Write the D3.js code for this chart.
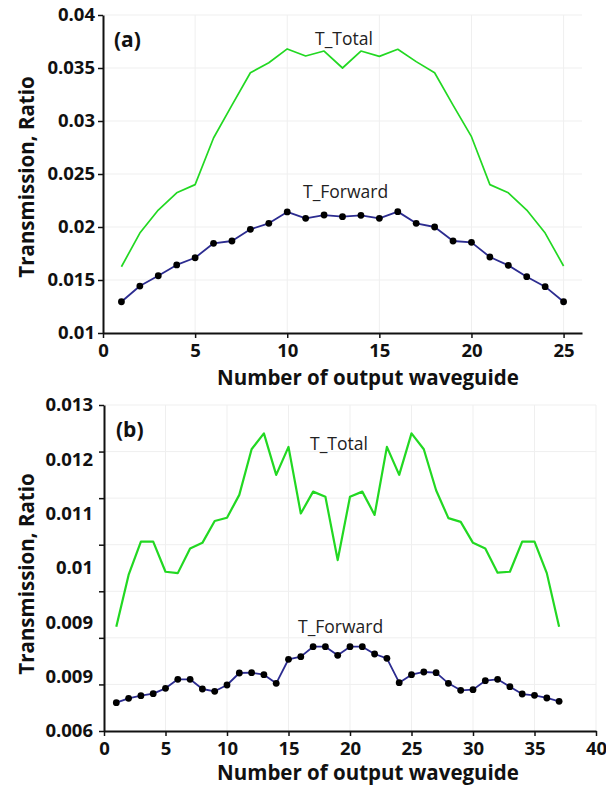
<!DOCTYPE html>
<html><head><meta charset="utf-8">
<script src="https://cdn.jsdelivr.net/npm/d3@7"></script>
<style>
html,body{margin:0;padding:0;background:#fff;}
svg{display:block;}
text{font-family:"Open Sans","DejaVu Sans",sans-serif;}
</style></head>
<body>
<svg id="chart" width="606" height="791"></svg>
<script>
// ---------- Panel (a) data ----------
const guidesA = d3.range(1, 26);
const totalA = [0.01625,0.01943,0.0216,0.02323,0.0240,0.0284,0.0315,0.03455,0.0355,0.0368,
                0.03613,0.0366,0.0350,0.0366,0.0361,0.03677,0.0356,0.03455,0.0315,0.02852,
                0.0240,0.02323,0.0216,0.01943,0.01632];
const forwardA = [0.01295,0.01443,0.0154,0.01642,0.0171,0.01846,0.01868,0.01978,0.02035,0.02142,
                  0.02082,0.02113,0.02097,0.0211,0.02082,0.02145,0.02035,0.0200,0.01868,0.01855,
                  0.01717,0.01638,0.01531,0.01437,0.01295];
const yTicksA = [0.01,0.015,0.02,0.025,0.03,0.035,0.04];
const yTickLabelsA = ["0.01","0.015","0.02","0.025","0.03","0.035","0.04"];
const xTicksA = [0,5,10,15,20,25];

// ---------- Panel (b) data ----------
const guidesB = d3.range(1, 38);
const totalB = [0.00824,0.00935,0.010065,0.010065,0.00942,0.00939,0.00992,0.01004,0.01051,0.01058,
                0.01107,0.01205,0.01239,0.0115,0.0121,0.01067,0.01114,0.01103,0.00967,0.01103,
                0.01114,0.01064,0.0121,0.0115,0.01239,0.01205,0.01117,0.01057,0.01049,0.01004,
                0.00992,0.0094,0.00942,0.010065,0.010065,0.00939,0.00824];
const forwardB = [0.006608,0.006702,0.006758,0.006801,0.006916,0.00711,0.00711,0.006902,0.006852,0.006988,
                  0.007245,0.007252,0.007209,0.007024,0.00754,0.007596,0.00781,0.00781,0.007625,0.00781,
                  0.00781,0.007653,0.007561,0.007037,0.007209,0.007267,0.007252,0.007024,0.006874,0.006888,
                  0.00708,0.00711,0.006952,0.006794,0.006766,0.006709,0.006637];
const yTicksB = [0.006,0.007,0.008,0.009,0.010,0.011,0.012,0.013];
const yTickLabelsB = ["0.013","0.012","0.011","0.01","0.009","0.009","0.006"];
const xTicksB = [0,5,10,15,20,25,30,35,40];

const seriesNames = ["T_Total","T_Forward"];
const xTitle = "Number of output waveguide";
const yTitle = "Transmission, Ratio";

const svg = d3.select("#chart");
const GREEN = "#22d822", NAVY = "#2c2c90";
const TICK_FS = 18.5, TITLE_FS = 20.5;

function panel(cfg){
  const g = svg.append("g");
  const x = d3.scaleLinear().domain(cfg.xDomain).range(cfg.xRange);
  const y = d3.scaleLinear().domain(cfg.yDomain).range(cfg.yRange);
  const [x0,x1] = cfg.xRange, [yb,yt] = cfg.yRange;

  // grid
  g.append("g").selectAll("line.h").data(cfg.yTicks.filter(v=>v!==cfg.yDomain[0])).join("line")
    .attr("x1",x0).attr("x2",x1).attr("y1",d=>y(d)).attr("y2",d=>y(d))
    .attr("stroke","#efefef").attr("stroke-width",1);
  g.append("g").selectAll("line.v").data(cfg.xTicks.filter(v=>v!==cfg.xDomain[0])).join("line")
    .attr("x1",d=>x(d)).attr("x2",d=>x(d)).attr("y1",yt).attr("y2",yb)
    .attr("stroke","#efefef").attr("stroke-width",1);

  // axes
  const yAxis = d3.axisLeft(y).tickValues(cfg.yTicks).tickSize(5).tickSizeOuter(0)
    .tickFormat(cfg.yLabelsEven ? "" : (d,i)=>cfg.yLabels[i]);
  const ya = g.append("g").attr("transform",`translate(${x0},0)`).call(yAxis);
  const xAxis = d3.axisBottom(x).tickValues(cfg.xTicks).tickSize(5).tickSizeOuter(0).tickFormat(d3.format("d"));
  const xa = g.append("g").attr("transform",`translate(0,${yb})`).call(xAxis);
  [ya,xa].forEach(a=>{
    a.select(".domain").attr("stroke","#111").attr("stroke-width",2);
    a.selectAll(".tick line").attr("stroke","#111").attr("stroke-width",1.5);
    a.selectAll(".tick text").attr("fill","#111").attr("font-size",TICK_FS).attr("font-weight","bold");
  });
  ya.selectAll(".tick text").attr("x",-8);
  xa.selectAll(".tick text").attr("y",11);

  if (cfg.yLabelsEven){
    const n = cfg.yLabels.length;
    const pos = d3.range(n).map(k => cfg.yDomain[1] - k*(cfg.yDomain[1]-cfg.yDomain[0])/(n-1));
    g.append("g").selectAll("text").data(cfg.yLabels).join("text")
      .attr("x",x0-11).attr("y",(d,i)=>y(pos[i])).attr("dy","0.35em")
      .attr("text-anchor","end").attr("font-size",TICK_FS).attr("font-weight","bold").attr("fill","#111")
      .text(d=>d);
  }

  // lines
  const line = d3.line().x((d,i)=>x(cfg.guides[i])).y(d=>y(d));
  g.append("path").datum(cfg.total).attr("d",line).attr("fill","none")
    .attr("stroke",GREEN).attr("stroke-width",cfg.greenW).attr("stroke-linejoin","round");
  g.append("path").datum(cfg.forward).attr("d",line).attr("fill","none")
    .attr("stroke",NAVY).attr("stroke-width",1.8).attr("stroke-linejoin","round");
  g.append("g").selectAll("circle").data(cfg.forward).join("circle")
    .attr("cx",(d,i)=>x(cfg.guides[i])).attr("cy",d=>y(d)).attr("r",3.4).attr("fill","#000");

  // series labels
  const labFont = "'Liberation Sans', Arial, sans-serif";
  g.append("text").attr("x",cfg.totalLab[0]).attr("y",cfg.totalLab[1]).attr("font-size",17.5)
    .attr("fill","#222").attr("font-family",labFont).text(seriesNames[0]);
  g.append("text").attr("x",cfg.fwdLab[0]).attr("y",cfg.fwdLab[1]).attr("font-size",17.5)
    .attr("fill","#222").attr("font-family",labFont).text(seriesNames[1]);

  // panel tag
  g.append("text").attr("x",cfg.tag[1]).attr("y",cfg.tag[2]).attr("font-size",21).attr("font-weight","bold")
    .attr("fill","#111").text(cfg.tag[0]);

  // titles
  g.append("text").attr("x",cfg.xTitlePos[0]).attr("y",cfg.xTitlePos[1]).attr("text-anchor","middle")
    .attr("font-size",TITLE_FS).attr("font-weight","bold").attr("fill","#111").text(xTitle);
  g.append("text").attr("transform",`translate(${cfg.yTitlePos[0]},${cfg.yTitlePos[1]}) rotate(-90)`)
    .attr("text-anchor","middle").attr("font-size",TITLE_FS).attr("font-weight","bold").attr("fill","#111").text(yTitle);
}

panel({
  guides:guidesA, total:totalA, forward:forwardA,
  xDomain:[0,26], xRange:[103,582], yDomain:[0.01,0.04], yRange:[333,15],
  yTicks:yTicksA, yLabels:yTickLabelsA, yLabelsEven:false, xTicks:xTicksA,
  greenW:1.7, totalLab:[315,45], fwdLab:[303,198], tag:["(a)",114,47],
  xTitlePos:[368,385], yTitlePos:[34,177]
});
panel({
  guides:guidesB, total:totalB, forward:forwardB,
  xDomain:[0,40], xRange:[104,596], yDomain:[0.006,0.013], yRange:[731,405],
  yTicks:yTicksB, yLabels:yTickLabelsB, yLabelsEven:true, xTicks:xTicksB,
  greenW:2.2, totalLab:[310,450], fwdLab:[298,633], tag:["(b)",116,437],
  xTitlePos:[368,780], yTitlePos:[34,574]
});
</script>
</body></html>
